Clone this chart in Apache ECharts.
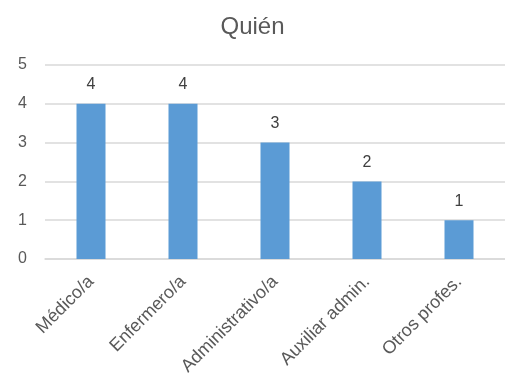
<!DOCTYPE html>
<html><head><meta charset="utf-8">
<script src="https://cdn.jsdelivr.net/npm/echarts@6/dist/echarts.min.js"></script>
<style>html,body{margin:0;padding:0;background:#fff}#c{width:505px;height:378px}</style>
</head><body><div id="c"></div>
<script>
const categories = ["Médico/a", "Enfermero/a", "Administrativo/a", "Auxiliar admin.", "Otros profes."];
const values = [4, 4, 3, 2, 1];
const chart = echarts.init(document.getElementById('c'));
const ff = '"Liberation Sans", Arial, sans-serif';
chart.setOption({
  animation: false,
  title: { text: 'Quién', left: 'center', top: 10, textStyle: { fontFamily: ff, fontSize: 24, fontWeight: 'normal', color: '#595959' } },
  grid: { left: 45, top: 65, width: 466, height: 196 },
  xAxis: {
    type: 'category', data: categories,
    axisLine: { show: true, lineStyle: { color: '#d9d9d9', width: 1.5 } },
    axisTick: { show: false },
    axisLabel: { rotate: 45, fontFamily: ff, fontSize: 18, color: '#595959', margin: 20, interval: 0 }
  },
  yAxis: {
    type: 'value', min: 0, max: 5, interval: 1,
    axisLine: { show: false }, axisTick: { show: false },
    splitLine: { lineStyle: { color: '#d9d9d9', width: 1.5 } },
    axisLabel: { fontFamily: ff, fontSize: 16, color: '#595959', margin: 18 }
  },
  series: [{
    type: 'bar', data: values, barWidth: 29,
    itemStyle: { color: '#5b9bd5' },
    label: { show: true, position: 'top', distance: 11, fontFamily: ff, fontSize: 16, color: '#404040' }
  }]
});
</script></body></html>
